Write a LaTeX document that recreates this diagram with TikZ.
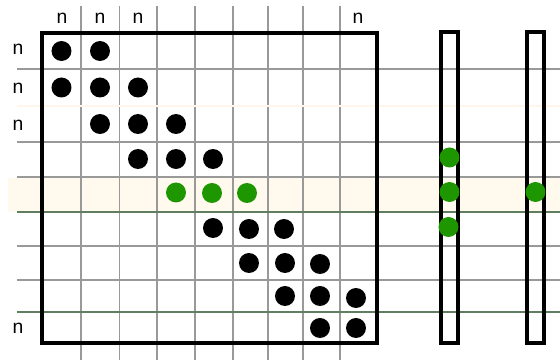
\documentclass[tikz,border=0pt]{standalone}
\usepackage{fontspec}
\setmainfont{Liberation Sans}
\usepackage{tikz}
\definecolor{pickgreen}{RGB}{30,150,0}
\definecolor{bandcream}{RGB}{255,250,237}
\definecolor{rulegreen}{RGB}{95,125,95}
\tikzset{
  % a nonzero entry of the matrix
  nz/.style    = {circle, fill=black, inner sep=0pt, minimum size=4mm},
  % an entry of the picked row / of the vectors
  hot/.style   = {nz, fill=pickgreen},
  % the thin ruling behind everything
  rule/.style  = {gray!80, line width=0.7pt},
  % the heavy outline of the matrix and of the vectors
  frame/.style = {line width=1.9pt},
  % a size label
  sz/.style    = {font=\fontsize{11}{13}\selectfont, inner sep=1pt},
}

\begin{document}
\begin{tikzpicture}[x=0.2mm, y=-0.2mm]
  \useasboundingbox (0,0) rectangle (560,360);
  % the highlighted row, all the way across
  \fill[bandcream] (8,178) rectangle (560,212);
  % ruling
  \foreach \x in {81,119.5,157,195,233,268,303,340}
    \draw[rule] (\x,6) -- (\x,360);
  \foreach \y in {69,142,177,246,280}
    \draw[rule] (17,\y) -- (560,\y);
  \draw[rule, orange!8] (17,106) -- (560,106);
  \draw[rule, rulegreen] (17,212) -- (560,212);
  \draw[rule, rulegreen] (17,312) -- (560,312);
  % matrix and vectors
  \draw[frame] (42,33) rectangle (377,343);
  \draw[frame] (441,32) rectangle (458,343);
  \draw[frame] (527,32) rectangle (544,343);
  % size labels
  \node[sz] (t1) at (62,18)  {n};
  \node[sz] (t2) at (100,18) {n};
  \node[sz] (t3) at (138,18) {n};
  \node[sz] (t9) at (358,18) {n};
  \node[sz] (l1) at (18,49)  {n};
  \node[sz] (l2) at (18,88)  {n};
  \node[sz] (l3) at (18,125) {n};
  \node[sz] (l9) at (18,328) {n};
  % the band of nonzeros
  \node[nz]  (a11) at (61.5,51)    {};
  \node[nz]  (a12) at (100,51)     {};
  \node[nz]  (a21) at (61.5,87.5)  {};
  \node[nz]  (a22) at (100,87.5)   {};
  \node[nz]  (a23) at (138,87.5)   {};
  \node[nz]  (a32) at (100,124)    {};
  \node[nz]  (a33) at (138,124)    {};
  \node[nz]  (a34) at (176,124)    {};
  \node[nz]  (a43) at (138,159)    {};
  \node[nz]  (a44) at (176,159)    {};
  \node[nz]  (a45) at (213,159)    {};
  \node[hot] (a54) at (176,192.5)  {};
  \node[hot] (a55) at (212,193)    {};
  \node[hot] (a56) at (247,193)    {};
  \node[nz]  (a65) at (213,228)    {};
  \node[nz]  (a66) at (249,229)    {};
  \node[nz]  (a67) at (284,229)    {};
  \node[nz]  (a76) at (249,263)    {};
  \node[nz]  (a77) at (285,263)    {};
  \node[nz]  (a78) at (320,264)    {};
  \node[nz]  (a87) at (285,296)    {};
  \node[nz]  (a88) at (320,296)    {};
  \node[nz]  (a89) at (356,298)    {};
  \node[nz]  (a98) at (320,328)    {};
  \node[nz]  (a99) at (356,328)    {};
  % the entries of the vectors that the row touches
  \node[hot] (x4) at (449.5,157.5) {};
  \node[hot] (x5) at (449.5,192)   {};
  \node[hot] (x6) at (448.5,227)   {};
  \node[hot] (y5) at (535.5,192)   {};
\end{tikzpicture}
\end{document}
